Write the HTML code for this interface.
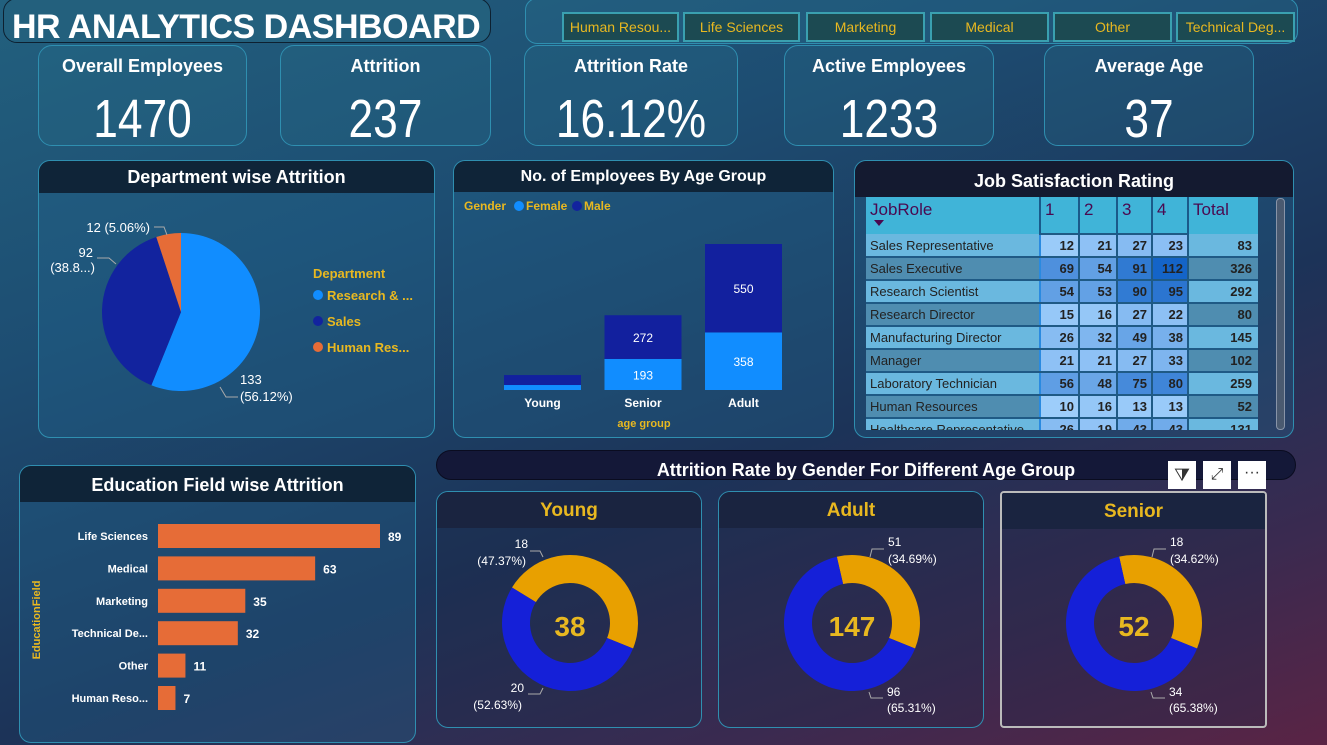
<!DOCTYPE html>
<html><head><meta charset="utf-8">
<style>
*{box-sizing:border-box;margin:0;padding:0}
body{width:1327px;height:745px;overflow:hidden;font-family:"Liberation Sans","DejaVu Sans",sans-serif;position:relative;
background:linear-gradient(160deg,#22607e 0%,#1d4d72 30%,#1c3358 60%,#3a2a50 82%,#5a2445 100%);}
.abs{position:absolute}
.card{position:absolute;border:1px solid #2f8fb0;border-radius:14px;background:rgba(40,110,140,0.25)}
.kt{position:absolute;left:0;right:0;top:10px;text-align:center;color:#fff;font-size:18px;font-weight:bold}
.kv{position:absolute;left:0;right:0;top:42px;text-align:center;color:#fff;font-size:54px;transform:scaleX(0.82)}
.panel{position:absolute;border:1px solid #2f8fb0;border-radius:12px;overflow:hidden;background:rgba(35,100,140,0.35)}
.ph{position:absolute;left:0;right:0;top:0;background:#0f2438;color:#fff;font-weight:bold;font-size:18px;text-align:center}
.btn{position:absolute;top:12px;height:30px;border:2px solid #3aa0b0;background:#1c4a52;color:#e8b820;font-size:14px;text-align:center;line-height:26px;white-space:nowrap;overflow:hidden}
svg text{font-family:"Liberation Sans","DejaVu Sans",sans-serif}
table{border-collapse:collapse}
</style></head><body>
<div class="abs" style="left:3px;top:-2px;width:488px;height:45px;border:1px solid #0d2030;border-radius:14px;background:#23607d"></div>
<div class="abs" style="left:12px;top:8px;color:#fff;font-weight:bold;font-size:34px;letter-spacing:-0.5px">HR ANALYTICS DASHBOARD</div>
<div class="abs" style="left:525px;top:-2px;width:773px;height:46px;border:1px solid #2f8fb0;border-radius:12px;background:rgba(40,110,140,0.35)"></div>
<div class="btn" style="left:562px;width:117px">Human Resou...</div>
<div class="btn" style="left:683px;width:117px">Life Sciences</div>
<div class="btn" style="left:806px;width:119px">Marketing</div>
<div class="btn" style="left:930px;width:119px">Medical</div>
<div class="btn" style="left:1053px;width:119px">Other</div>
<div class="btn" style="left:1176px;width:119px">Technical Deg...</div>

<div class="card" style="left:38px;top:45px;width:209px;height:101px"><div class="kt">Overall Employees</div><div class="kv">1470</div></div>
<div class="card" style="left:280px;top:45px;width:211px;height:101px"><div class="kt">Attrition</div><div class="kv">237</div></div>
<div class="card" style="left:524px;top:45px;width:214px;height:101px"><div class="kt">Attrition Rate</div><div class="kv">16.12%</div></div>
<div class="card" style="left:784px;top:45px;width:210px;height:101px"><div class="kt">Active Employees</div><div class="kv">1233</div></div>
<div class="card" style="left:1044px;top:45px;width:210px;height:101px"><div class="kt">Average Age</div><div class="kv">37</div></div>

<div class="panel" style="left:38px;top:160px;width:397px;height:278px">
<div class="ph" style="height:32px;line-height:32px">Department wise Attrition</div></div>
<div class="panel" style="left:453px;top:160px;width:381px;height:278px">
<div class="ph" style="height:31px;line-height:31px;font-size:16px">No. of Employees By Age Group</div></div>
<div class="panel" style="left:854px;top:160px;width:440px;height:278px">
<div class="ph" style="height:36px;line-height:40px;background:#141a30">Job Satisfaction Rating</div></div>
<div class="panel" style="left:19px;top:465px;width:397px;height:278px">
<div class="ph" style="height:36px;line-height:38px">Education Field wise Attrition</div></div>
<div class="abs" style="left:436px;top:450px;width:860px;height:30px;border-radius:15px;background:#141838;border:1px solid #0a0c20;color:#fff;font-weight:bold;font-size:18px;text-align:center;line-height:38px">Attrition Rate by Gender For Different Age Group</div>

<div class="abs" style="left:1168px;top:461px;width:28px;height:28px;background:#fff;color:#333;text-align:center;font-size:18px;line-height:28px">⧩</div>
<div class="abs" style="left:1203px;top:461px;width:28px;height:28px;background:#fff;color:#333;text-align:center;font-size:16px;line-height:28px">⤢</div>
<div class="abs" style="left:1238px;top:461px;width:28px;height:28px;background:#fff;color:#333;text-align:center;font-size:16px;line-height:24px">···</div>

<div class="panel" style="left:436px;top:491px;width:266px;height:237px;background:rgba(30,40,70,0.3)"><div class="ph" style="height:36px;line-height:38px;color:#e8b820;font-size:19px;background:#1a2440">Young</div></div>
<div class="panel" style="left:718px;top:491px;width:266px;height:237px;background:rgba(30,40,70,0.3)"><div class="ph" style="height:36px;line-height:38px;color:#e8b820;font-size:19px;background:#1a2440">Adult</div></div>
<div class="panel" style="left:1000px;top:491px;width:267px;height:237px;border:2px solid #bbb;border-radius:4px;background:rgba(30,40,70,0.3)"><div class="ph" style="height:36px;line-height:38px;color:#e8b820;font-size:19px;background:#1a2440">Senior</div></div>

<div class="abs" style="left:866px;top:197px;width:392px;height:233px;overflow:hidden">
<table id="jt" style="width:392px;font-size:13px;color:#222"></table></div>
<div class="abs" style="left:1276px;top:198px;width:9px;height:232px;border-radius:4px;background:#4a5a70;border:1px solid #8894a8"></div>

<svg id="chart" class="abs" style="left:0;top:0" width="1327" height="745"></svg>

<script>
// Department pie
const deptNames=["Research & ...","Sales","Human Res..."];
const deptValues=[133,92,12];
// Age group stacked bars
const ageGroups=["Young","Senior","Adult"];
const femaleValues=[31,193,358];
const maleValues=[62,272,550];
// Education bars
const eduFields=["Life Sciences","Medical","Marketing","Technical De...","Other","Human Reso..."];
const eduValues=[89,63,35,32,11,7];
// Job satisfaction
const jobRoles=["Sales Representative","Sales Executive","Research Scientist","Research Director","Manufacturing Director","Manager","Laboratory Technician","Human Resources","Healthcare Representative"];
const sat1=[12,69,54,15,26,21,56,10,26];
const sat2=[21,54,53,16,32,21,48,16,19];
const sat3=[27,91,90,27,49,27,75,13,43];
const sat4=[23,112,95,22,38,33,80,13,43];
// Donuts
const donutGroups=["Young","Adult","Senior"];
const donutFemale=[18,51,18];
const donutMale=[20,96,34];

const NS="http://www.w3.org/2000/svg";
const svg=document.getElementById('chart');
function mk(tag,attrs,parent){const e=document.createElementNS(NS,tag);for(const k in attrs)e.setAttribute(k,attrs[k]);(parent||svg).appendChild(e);return e;}
function txt(x,y,s,attrs){const t=mk('text',Object.assign({x:x,y:y},attrs||{}));t.textContent=s;return t;}
function pt(cx,cy,r,a){return [cx+r*Math.sin(a),cy-r*Math.cos(a)];}
function arcPath(cx,cy,r0,r1,a0,a1){
 const large=(a1-a0)>Math.PI?1:0;const p0=pt(cx,cy,r1,a0),p1=pt(cx,cy,r1,a1);
 if(r0===0)return `M${cx},${cy}L${p0}A${r1},${r1} 0 ${large} 1 ${p1}Z`;
 const q0=pt(cx,cy,r0,a1),q1=pt(cx,cy,r0,a0);
 return `M${p0}A${r1},${r1} 0 ${large} 1 ${p1}L${q0}A${r0},${r0} 0 ${large} 0 ${q1}Z`;}

// pie
const pieColors=["#118dff","#12239e","#e66c37"];
const pieTotal=deptValues.reduce((a,b)=>a+b,0);
let a=0;
deptValues.forEach((v,i)=>{const s=v/pieTotal*2*Math.PI;const p=mk('path',{d:arcPath(181,312,0,79,a,a+s),fill:pieColors[i]});

a+=s;});
deptValues.forEach((v,i)=>{const pct=(v/pieTotal*100).toFixed(2)+'%';
 if(i===0){txt(240,384,String(v),{fill:'#fff','font-size':13});txt(240,401,'('+pct+')',{fill:'#fff','font-size':13});mk('path',{d:'M220,387 l6,10 h12',stroke:'#aaa',fill:'none'});}
 else if(i===1){txt(93,257,String(v),{fill:'#fff','font-size':13,'text-anchor':'end'});txt(95,272,'('+pct.slice(0,4)+'...)',{fill:'#fff','font-size':13,'text-anchor':'end'});mk('path',{d:'M97,258 h12 l7,6',stroke:'#aaa',fill:'none'});}
 else {txt(150,232,v+' ('+pct+')',{fill:'#fff','font-size':13,'text-anchor':'end'});mk('path',{d:'M154,227 h10 l3,8',stroke:'#aaa',fill:'none'});}});
txt(313,278,'Department',{fill:'#e8b820','font-size':13,'font-weight':'bold'});
deptNames.forEach((n,i)=>{mk('circle',{cx:318,cy:295+i*26,r:5,fill:pieColors[i]});txt(327,300+i*26,n,{fill:'#e8b820','font-size':13,'font-weight':'bold'});});

// age bars
txt(464,210,'Gender',{fill:'#e8b820','font-size':12,'font-weight':'bold'});
mk('circle',{cx:519,cy:206,r:5,fill:'#118dff'});txt(526,210,'Female',{fill:'#e8b820','font-size':12,'font-weight':'bold'});
mk('circle',{cx:577,cy:206,r:5,fill:'#12239e'});txt(584,210,'Male',{fill:'#e8b820','font-size':12,'font-weight':'bold'});
const ageBase=390,ageScale=146/908,ageX0=504,ageStep=100.5,ageW=77;
ageGroups.forEach((g,i)=>{const x=ageX0+i*ageStep;const hf=femaleValues[i]*ageScale,hm=maleValues[i]*ageScale;
 const rf=mk('rect',{x:x,y:ageBase-hf,width:ageW,height:hf,fill:'#118dff'});
 
 
 const rm=mk('rect',{x:x,y:ageBase-hf-hm,width:ageW,height:hm,fill:'#12209e'});
 
 
 if(hf>20)txt(x+ageW/2,ageBase-hf/2+5,String(femaleValues[i]),{fill:'#fff','font-size':12,'text-anchor':'middle'});
 if(hm>20)txt(x+ageW/2,ageBase-hf-hm/2+5,String(maleValues[i]),{fill:'#fff','font-size':12,'text-anchor':'middle'});
 txt(x+ageW/2,407,g,{fill:'#fff','font-size':12,'font-weight':'bold','text-anchor':'middle'});});
txt(644,427,'age group',{fill:'#e8b820','font-size':11,'font-weight':'bold','text-anchor':'middle'});

// education bars
const eduX0=158,eduScale=222/89,eduY0=536,eduStep=32.4,eduH=24;
eduFields.forEach((f,i)=>{const y=eduY0+i*eduStep;const w=eduValues[i]*eduScale;
 const r=mk('rect',{x:eduX0,y:y-eduH/2,width:w,height:eduH,fill:'#e66c37'});
 
 
 txt(148,y+4,f,{fill:'#fff','font-size':11,'font-weight':'bold','text-anchor':'end'});
 txt(eduX0+w+8,y+5,String(eduValues[i]),{fill:'#fff','font-size':12,'font-weight':'bold'});});
txt(40,620,'EducationField',{fill:'#e8b820','font-size':11,'font-weight':'bold','text-anchor':'middle',transform:'rotate(-90 40 620)'});

// donuts
const dcx=[570,852,1134],dcy=623;
donutGroups.forEach((g,i)=>{const tot=donutFemale[i]+donutMale[i];const end=112*Math.PI/180;const fs=donutFemale[i]/tot*2*Math.PI;
 const o=mk('path',{d:arcPath(dcx[i],dcy,40,68,end-fs,end),fill:'#e8a000'});
 
 
 const b=mk('path',{d:arcPath(dcx[i],dcy,40,68,end,end-fs+2*Math.PI),fill:'#1520d8'});
 
 
 txt(dcx[i],dcy+13,String(tot),{fill:'#e8b820','font-size':28,'font-weight':'bold','text-anchor':'middle'});
 const pf='('+(donutFemale[i]/tot*100).toFixed(2)+'%)',pm='('+(donutMale[i]/tot*100).toFixed(2)+'%)';
 if(i===0){txt(528,548,String(donutFemale[i]),{fill:'#fff','font-size':12,'text-anchor':'end'});txt(526,565,pf,{fill:'#fff','font-size':12,'text-anchor':'end'});
  mk('path',{d:'M530,551 h10 l3,6',stroke:'#aaa',fill:'none'});
  txt(524,692,String(donutMale[i]),{fill:'#fff','font-size':12,'text-anchor':'end'});txt(522,709,pm,{fill:'#fff','font-size':12,'text-anchor':'end'});
  mk('path',{d:'M528,694 h12 l3,-6',stroke:'#aaa',fill:'none'});}
 else {const x=dcx[i]+36;txt(x,546,String(donutFemale[i]),{fill:'#fff','font-size':12});txt(x,563,pf,{fill:'#fff','font-size':12});
  mk('path',{d:`M${x-4},549 h-12 l-2,8`,stroke:'#aaa',fill:'none'});
  txt(x-1,696,String(donutMale[i]),{fill:'#fff','font-size':12});txt(x-1,712,pm,{fill:'#fff','font-size':12});
  mk('path',{d:`M${x-5},698 h-12 l-2,-6`,stroke:'#aaa',fill:'none'});}});

// table
const tb=document.getElementById('jt');
function cellColor(v){const t=Math.min(1,v/112);const c1=[170,215,255],c2=[20,100,200];return `rgb(${c1.map((c,k)=>Math.round(c+(c2[k]-c)*t)).join(',')})`;}
let h='<tr style="background:#40b4d8;color:#4a0a50;height:35px;font-size:17px;vertical-align:top"><td style="padding:3px 4px;width:174px;border-right:2px solid #1a5a8a">JobRole<div style="width:0;height:0;border:5px solid transparent;border-top:6px solid #4a0a50;margin-left:4px"></div></td>';
['1','2','3','4'].forEach(c=>h+='<td style="padding:3px 4px;border-right:2px solid #1a5a8a">'+c+'</td>');
h+='<td style="padding:3px 4px">Total</td></tr>';
jobRoles.forEach((r,i)=>{const vals=[sat1[i],sat2[i],sat3[i],sat4[i]];const bg=i%2?'#4f8db0':'#6ab8df';
 h+=`<tr style="height:23px;background:${bg}"><td style="padding:0 4px;white-space:nowrap;border-bottom:2px solid #1f5a85;border-right:2px solid #2a8ae0">${r}</td>`;
 vals.forEach((v,k)=>h+=`<td style="background:${cellColor(v)};text-align:right;padding:0 4px;font-weight:bold;border:2px solid #1f5a85;width:${[39,38,35,36][k]}px">${v}</td>`);
 h+=`<td style="text-align:right;padding:0 6px;font-weight:bold;border-bottom:2px solid #1f5a85">${vals.reduce((a,b)=>a+b,0)}</td></tr>`;});
tb.innerHTML=h;
</script>
</body></html>
